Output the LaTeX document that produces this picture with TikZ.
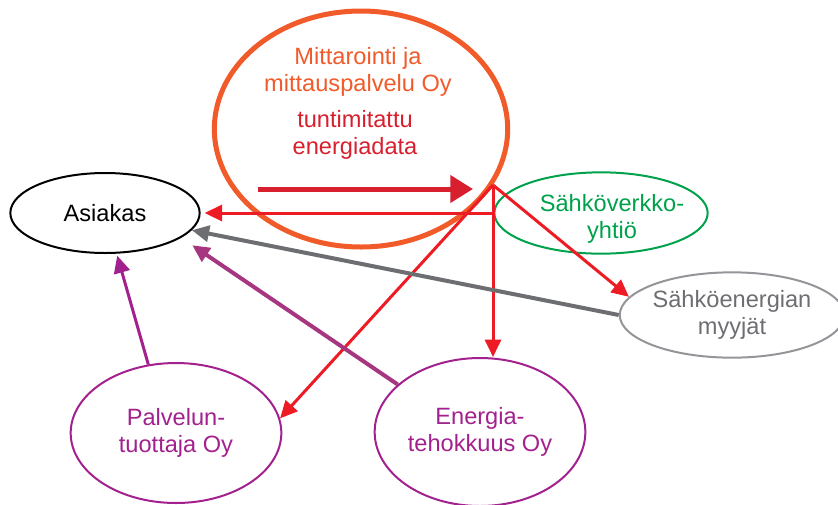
\documentclass[tikz,border=0pt]{standalone}
\usepackage{fontspec}
\setmainfont{Liberation Sans}
\usetikzlibrary{shapes.geometric,arrows.meta}

\definecolor{oranssi}{HTML}{F15A29}
\definecolor{tummapun}{HTML}{D71F2E}
\definecolor{punainen}{HTML}{ED1C24}
\definecolor{vihrea}{HTML}{00A14B}
\definecolor{harmaa}{HTML}{939598}
\definecolor{tummaharmaa}{HTML}{6D6E71}
\definecolor{violetti}{HTML}{A3218E}
\definecolor{luumu}{HTML}{A6367F}

\begin{document}
\begin{tikzpicture}[
                            x=0.75pt, y=-0.75pt,
                            font=\fontsize{17.7}{20.5}\selectfont,
                            toimija/.style={draw, ellipse, line width=1.5pt, inner sep=0pt, align=center},
                            tietovirta/.style={draw=punainen, line width=2.25pt, -{Triangle[length=13pt,width=12pt]}},
                            kaari/.style={line width=3pt, -{Triangle[length=13pt,width=12pt]}}
                            ]

                            \useasboundingbox (0,0) rectangle (838,504);

                            \node [toimija, draw=oranssi, line width=3.75pt, minimum width=220pt, minimum height=177pt] (mittaus) at (361,129) {};
                            \node [text=oranssi, align=center] (yritys) at (358,72) {Mittarointi ja\\mittauspalvelu Oy};
                            \node [text=tummapun, align=center] (data) at (355,135) {tuntimitattu\\energiadata};

                            \node [toimija, minimum width=142pt, minimum height=60pt] (asiakas) at (105,213) {Asiakas};
                            \node [toimija, draw=vihrea, minimum width=160pt, minimum height=61pt] (verkko) at (601,213) {};
                            \node [text=vihrea, align=center] (verkkoyhtio) at (612,219) {Sähköverkko-\\yhtiö};
                            \node [toimija, draw=harmaa, text=tummaharmaa, minimum width=165pt, minimum height=64pt] (myyjat) at (732,315) {Sähköenergian\\myyjät};
                            \node [toimija, draw=violetti, text=violetti, minimum width=158pt, minimum height=105pt] (palvelu) at (176,433) {Palvelun-\\tuottaja Oy};
                            \node [toimija, draw=violetti, text=violetti, minimum width=158pt, minimum height=111pt] (tehokkuus) at (480,432) {Energia-\\tehokkuus Oy};

                            \coordinate (alku) at (258,189);
                            \coordinate (loppu) at (473,189);
                            \coordinate (jako) at (493,185);

                            \draw[draw=tummapun, line width=3.75pt, -{Triangle[length=17pt,width=20pt]}] (alku) -- (loppu);

                            \draw[tietovirta] (jako) -- (jako |- tehokkuus.north);
                            \draw[tietovirta, shorten >=3pt] (jako |- asiakas.east) -- (asiakas.east);
                            \draw[tietovirta] (jako) -- (myyjat.170);
                            \draw[tietovirta] (jako) -- (palvelu.8);

                            \draw[kaari, draw=tummaharmaa] (myyjat.west) -- (asiakas);
                            \draw[kaari, draw=luumu, shorten >=10pt] (tehokkuus.150) -- (asiakas.-18);
                            \draw[kaari, draw=violetti, line width=2.25pt, shorten >=1.5pt] (palvelu.112) -- (asiakas.-74);
                        \end{tikzpicture}
\end{document}
